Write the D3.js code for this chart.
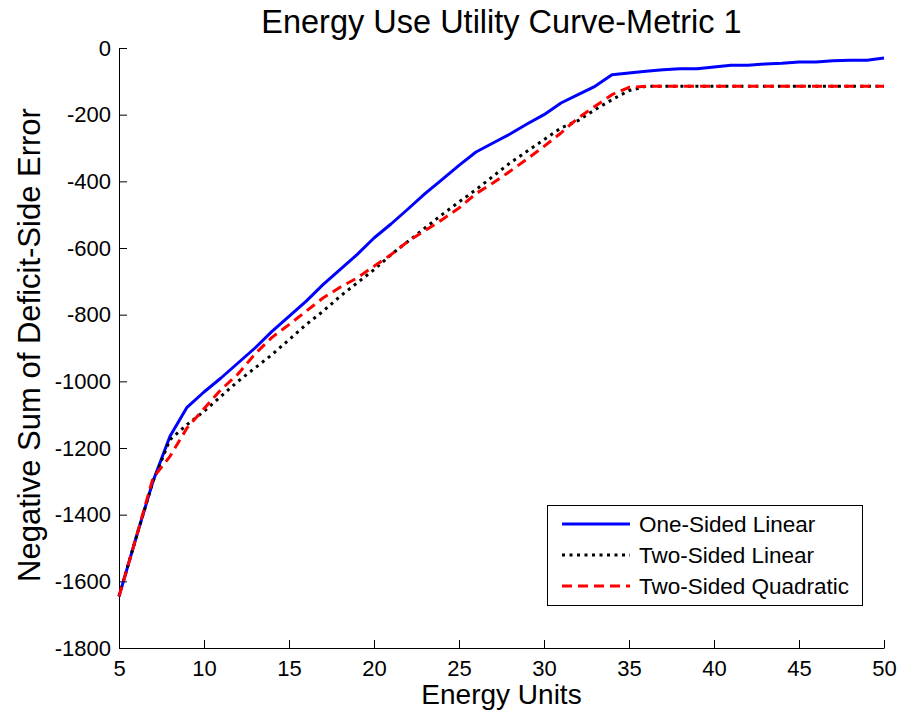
<!DOCTYPE html>
<html>
<head>
<meta charset="utf-8">
<script src="https://cdn.jsdelivr.net/npm/d3@7"></script>
<style>
  html, body { margin: 0; padding: 0; background: #fff; }
  svg { display: block; font-family: "Liberation Sans", Arial, sans-serif; }
</style>
</head>
<body>
<svg id="chart" width="903" height="717"></svg>
<script>
// Energy units on the horizontal axis
const energyUnits = [5, 6, 7, 8, 9, 10, 11, 12, 13, 14, 15, 16, 17, 18, 19, 20,
  21, 22, 23, 24, 25, 26, 27, 28, 29, 30, 31, 32, 33, 34, 35, 36, 37, 38, 39, 40,
  41, 42, 43, 44, 45, 46, 47, 48, 49, 50];

// Negative sum of deficit-side error for each utility model
const oneSidedLinear = [-1645, -1470, -1300, -1165, -1078, -1032, -990, -945, -900, -850,
  -805, -760, -710, -665, -620, -570, -528, -483, -437, -395, -352, -312, -285, -258, -228,
  -200, -165, -140, -115, -80, -75, -70, -65, -62, -62, -57, -52, -52, -48, -46, -42, -42,
  -38, -37, -37, -30];
const twoSidedLinear = [-1645, -1470, -1300, -1175, -1130, -1090, -1045, -1000, -960, -920,
  -875, -830, -790, -745, -705, -665, -620, -580, -540, -500, -462, -425, -385, -345, -310,
  -275, -240, -218, -185, -155, -128, -115, -115, -115, -115, -115, -115, -115, -115, -115,
  -115, -115, -115, -115, -115, -115];
const twoSidedQuadratic = [-1645, -1470, -1290, -1225, -1140, -1082, -1025, -978, -918, -868,
  -830, -790, -750, -718, -690, -655, -620, -580, -548, -515, -480, -437, -405, -370, -333,
  -295, -255, -210, -175, -140, -118, -115, -115, -115, -115, -115, -115, -115, -115, -115,
  -115, -115, -115, -115, -115, -115];

const xTicks = [5, 10, 15, 20, 25, 30, 35, 40, 45, 50];
const yTicks = [0, -200, -400, -600, -800, -1000, -1200, -1400, -1600, -1800];

const seriesNames = ["One-Sided Linear", "Two-Sided Linear", "Two-Sided Quadratic"];
const seriesValues = [oneSidedLinear, twoSidedLinear, twoSidedQuadratic];

const styles = [
  { color: "#0000ff", dash: null },
  { color: "#000000", dash: "3,4.5" },
  { color: "#ff0000", dash: "10,6" }
];

const svg = d3.select("#chart");
const plotLeft = 119, plotRight = 884, plotTop = 48, plotBottom = 648;

const x = d3.scaleLinear().domain([5, 50]).range([plotLeft, plotRight]);
const y = d3.scaleLinear().domain([-1800, 0]).range([plotBottom, plotTop]);

// Plain labels with an ASCII hyphen for negatives, no thousands separator
const plain = d => String(d);

// Axes: ticks point into the plot area
const xAxis = d3.axisBottom(x).tickValues(xTicks).tickFormat(plain)
  .tickSizeInner(-8).tickSizeOuter(0).tickPadding(12);
const yAxis = d3.axisLeft(y).tickValues(yTicks).tickFormat(plain)
  .tickSizeInner(-8).tickSizeOuter(0).tickPadding(12);

const gx = svg.append("g").attr("transform", `translate(0,${plotBottom})`).call(xAxis);
const gy = svg.append("g").attr("transform", `translate(${plotLeft},0)`).call(yAxis);

[gx, gy].forEach(g => {
  g.select(".domain").attr("stroke", "#000").attr("stroke-width", 1);
  g.selectAll(".tick line").attr("stroke", "#000").attr("stroke-width", 1);
  g.selectAll(".tick text").attr("fill", "#000").attr("font-size", 22)
    .attr("font-family", "Liberation Sans, Arial, sans-serif");
});
gx.selectAll(".tick text").attr("dy", "0.71em").attr("y", 12);
gy.selectAll(".tick text").attr("x", -8);

// Curves
const line = d3.line().x((d, i) => x(energyUnits[i])).y(d => y(d));
const plot = svg.append("g");
seriesValues.forEach((vals, k) => {
  const p = plot.append("path")
    .datum(vals)
    .attr("d", line)
    .attr("fill", "none")
    .attr("stroke", styles[k].color)
    .attr("stroke-width", 3)
    .attr("stroke-linejoin", "round");
  if (styles[k].dash) p.attr("stroke-dasharray", styles[k].dash);
});

// Title and axis labels
svg.append("text")
  .attr("x", (plotLeft + plotRight) / 2).attr("y", 33)
  .attr("text-anchor", "middle").attr("font-size", 32.5)
  .text("Energy Use Utility Curve-Metric 1");

svg.append("text")
  .attr("x", (plotLeft + plotRight) / 2).attr("y", 704)
  .attr("text-anchor", "middle").attr("font-size", 28)
  .text("Energy Units");

svg.append("text")
  .attr("transform", `translate(40,345) rotate(-90)`)
  .attr("text-anchor", "middle").attr("font-size", 31)
  .text("Negative Sum of Deficit-Side Error");

// Legend
const legend = svg.append("g");
legend.append("rect")
  .attr("x", 547.5).attr("y", 505.5).attr("width", 315).attr("height", 100)
  .attr("fill", "#fff").attr("stroke", "#000").attr("stroke-width", 1);

const rowY = [524, 555, 586];
seriesNames.forEach((name, k) => {
  const l = legend.append("line")
    .attr("x1", 562).attr("x2", 630)
    .attr("y1", rowY[k]).attr("y2", rowY[k])
    .attr("stroke", styles[k].color).attr("stroke-width", 3);
  if (styles[k].dash) l.attr("stroke-dasharray", styles[k].dash);
  legend.append("text")
    .attr("x", 639).attr("y", rowY[k] + 8)
    .attr("font-size", 22.5)
    .text(name);
});
</script>
</body>
</html>
